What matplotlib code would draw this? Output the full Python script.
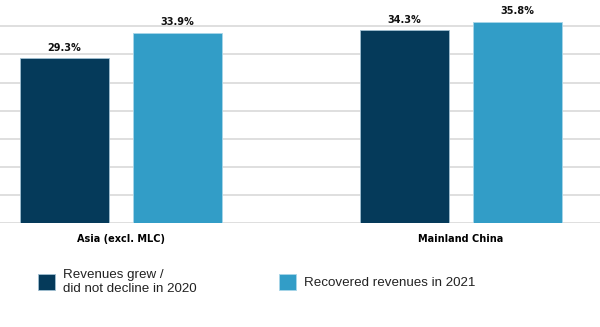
import matplotlib
matplotlib.use("Agg")
import matplotlib.pyplot as plt
import numpy as np

regions = ["Asia (excl. MLC)", "Mainland China"]
grew_2020 = [29.3, 34.3]
recovered_2021 = [33.9, 35.8]
series_labels = ["Revenues grew /\ndid not decline in 2020", "Recovered revenues in 2021"]

dark_blue = "#053a5a"
light_blue = "#329dc7"

plt.rcParams["font.family"] = ["DejaVu Sans"]

fig = plt.figure(figsize=(6.0, 3.27), dpi=100)
ax = fig.add_axes([0, 104 / 327, 1, 223 / 327])

x = np.arange(len(regions))
w = 0.262
off = 0.166
b1 = ax.bar(x - off, grew_2020, w, color=dark_blue, edgecolor="#9fbfd2", linewidth=0.6, zorder=3)
b2 = ax.bar(x + off, recovered_2021, w, color=light_blue, edgecolor="#a8d6e8", linewidth=0.6, zorder=3)

for bars, vals in ((b1, grew_2020), (b2, recovered_2021)):
    for r, v in zip(bars, vals):
        ax.text(r.get_x() + r.get_width() / 2, v + 1.0, f"{v}%", ha="center", va="bottom",
                fontsize=7, fontweight="bold", color="#111111")

ax.set_ylim(0, 39.7)
ax.set_xlim(-0.356, 1.409)
ax.set_yticks(np.arange(0, 40, 5))
ax.yaxis.grid(True, color="#d9d9d9", linewidth=1.2, zorder=0)
ax.set_yticklabels([])
ax.tick_params(axis="y", length=0)
ax.set_xticks(x)
ax.set_xticklabels(regions, fontsize=7, fontweight="bold")
ax.tick_params(axis="x", length=0, pad=8)
for s in ax.spines.values():
    s.set_visible(False)

# one legend per series so each can sit at its own spot
leg_font = {"family": ["Liberation Sans", "DejaVu Sans"], "size": 9.6}
for bars, label, x0 in ((b1, series_labels[0], 38), (b2, series_labels[1], 279)):
    leg = fig.legend([bars], [label], loc="center left",
                     bbox_to_anchor=(x0 / 600, 1 - 282 / 327), frameon=False,
                     prop=leg_font, handlelength=1.25, handleheight=1.4,
                     handletextpad=0.6, borderpad=0, borderaxespad=0)
    for t in leg.get_texts():
        t.set_color("#222222")
        t.set_linespacing(1.15)

fig.savefig("out.png", dpi=100)
